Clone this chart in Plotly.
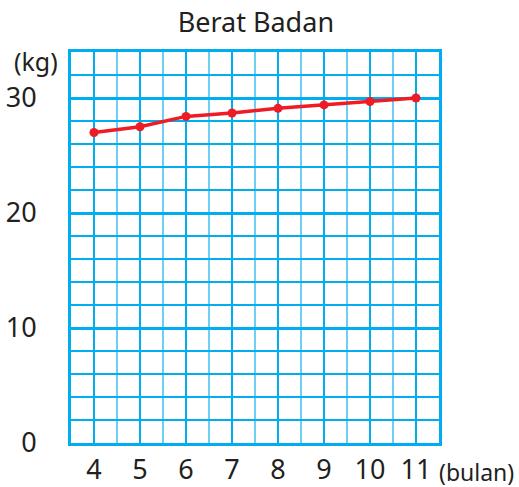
import plotly.graph_objects as go

# Monthly body weight
months = [4, 5, 6, 7, 8, 9, 10, 11]
weight_kg = [27.0, 27.5, 28.4, 28.7, 29.1, 29.4, 29.7, 30.0]

x_ticks = [4, 5, 6, 7, 8, 9, 10, 11]
y_ticks = [0, 10, 20, 30]

TEXT = "#231F20"
BLUE = "#00AEEF"
BLUE_LIGHT = "#6DCFF6"
RED = "#EE1C25"
FONT = "Noto Sans"

fig = go.Figure(
    go.Scatter(
        x=months,
        y=weight_kg,
        mode="lines+markers",
        line=dict(color=RED, width=3.5),
        marker=dict(color=RED, size=9),
        cliponaxis=False,
    )
)

fig.update_layout(
    width=519,
    height=487,
    margin=dict(l=71, r=80, t=52, b=44, autoexpand=False),
    paper_bgcolor="white",
    plot_bgcolor="white",
    showlegend=False,
    font=dict(family=FONT, color=TEXT, size=28),
    title=dict(
        text="Berat Badan",
        x=0.493,
        xanchor="center",
        y=0.953,
        yanchor="middle",
        font=dict(family=FONT, size=27, color=TEXT),
    ),
)

fig.update_xaxes(
    range=[3.5, 11.5],
    tickvals=x_ticks,
    ticktext=[str(v) for v in x_ticks],
    ticks="",
    ticklabelstandoff=1,
    tickfont=dict(size=27),
    automargin=False,
    showgrid=True,
    gridcolor=BLUE,
    gridwidth=2,
    minor=dict(tick0=3.5, dtick=1, showgrid=True, gridcolor=BLUE_LIGHT, gridwidth=1.5),
    zeroline=False,
    showline=True,
    mirror=True,
    linecolor=BLUE,
    linewidth=3,
    fixedrange=True,
)

fig.update_yaxes(
    range=[0, 34],
    tickvals=y_ticks,
    ticktext=[str(v) for v in y_ticks],
    ticks="",
    ticklabelstandoff=26,
    tickfont=dict(size=27),
    automargin=False,
    showgrid=True,
    gridcolor=BLUE,
    gridwidth=2.5,
    minor=dict(tick0=0, dtick=2, showgrid=True, gridcolor=BLUE, gridwidth=1.5),
    zeroline=False,
    showline=True,
    mirror=True,
    linecolor=BLUE,
    linewidth=3,
    fixedrange=True,
)

# Unit labels
fig.add_annotation(
    text="(kg)", xref="paper", yref="paper", x=-0.095, y=0.978, xanchor="center", yanchor="middle",
    showarrow=False, font=dict(family=FONT, size=25, color=TEXT),
)
fig.add_annotation(
    text="(bulan)", xref="paper", yref="paper", x=1.103, y=-0.075, xanchor="center", yanchor="middle",
    showarrow=False, font=dict(family=FONT, size=23, color=TEXT),
)

fig.write_html("out.html")
